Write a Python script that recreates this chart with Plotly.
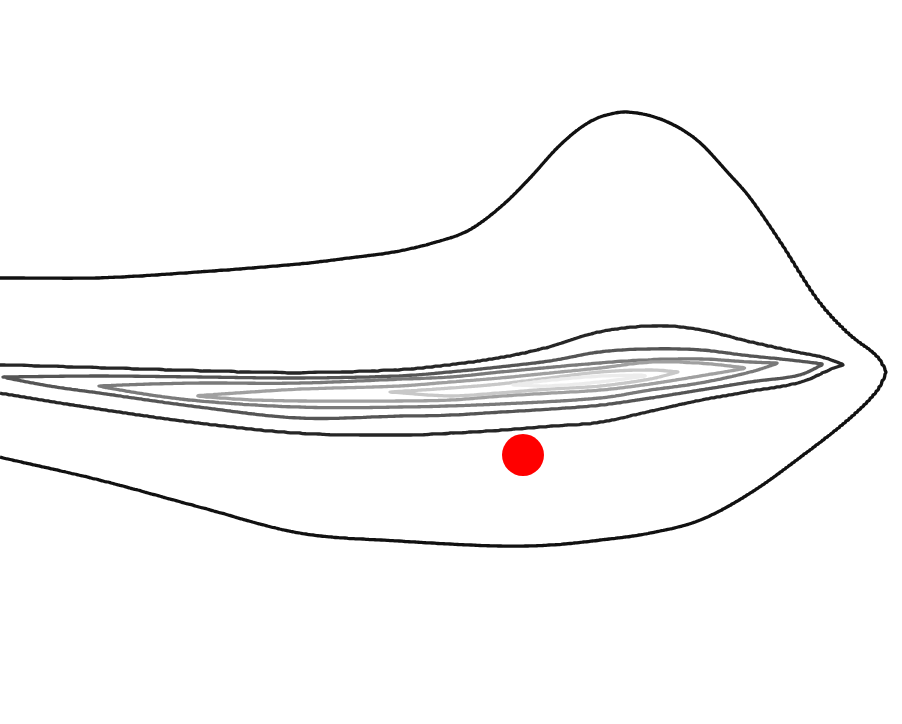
import numpy as np
import plotly.graph_objects as go

# Columns where the ridge height of the density was read, and that height
col_x = [0, 50, 100, 150, 200, 250, 300, 350, 400, 450, 500, 550, 600, 625, 650,
         675, 700, 725, 750, 775, 800, 825, 850, 870, 880, 890, 902]
peak_z = [2.98, 3.5, 4.03, 4.55, 5.04, 5.3, 5.54, 5.8, 6.08, 6.5, 6.92, 7.25, 7.35, 7.3, 7.04,
          6.1, 5.7, 5.35, 4.95, 4.1, 3.5, 2.97, 1.83, 1.4, 1.15, 0.9, 0.7]

# Contour levels: upper and lower edges of each level
L1_top_x = [0, 100, 200, 300, 350, 400, 450, 473, 503, 530, 557, 580, 600, 627, 663, 697, 730, 750, 780, 817, 847, 877, 886]
L1_top_y = [278, 278, 272, 264, 258, 251, 238, 228, 205, 178, 148, 128, 117, 112, 120, 140, 175, 198, 242, 300, 333, 357, 372]
L1_bot_x = [0, 100, 200, 300, 400, 500, 550, 600, 650, 700, 750, 800, 847, 877, 886]
L1_bot_y = [457, 480, 507, 533, 541, 546, 545, 540, 533, 520, 493, 457, 420, 390, 372]

L2_top_x = [0, 100, 200, 300, 400, 450, 500, 550, 600, 657, 700, 750, 800, 825, 843]
L2_top_y = [365, 368, 371, 373, 370, 365, 358, 347, 332, 326, 330, 342, 353, 358, 365]
L2_bot_x = [0, 100, 200, 300, 400, 450, 500, 550, 600, 650, 700, 750, 800, 833, 843]
L2_bot_y = [393, 409, 423, 433, 435, 433, 430, 426, 422, 411, 400, 391, 382, 368, 365]

L3_top_x = [2, 100, 200, 300, 400, 450, 500, 550, 600, 650, 700, 750, 800, 824]
L3_top_y = [377, 376, 377, 378, 376, 372, 367, 361, 352, 349, 350, 356, 361, 364]
L3_bot_x = [2, 50, 100, 200, 300, 400, 450, 500, 550, 600, 650, 700, 750, 800, 824]
L3_bot_y = [377, 386, 393, 407, 418, 416, 415, 412, 409, 405, 398, 390, 382, 375, 364]

L4_top_x = [97, 150, 200, 300, 400, 450, 500, 600, 650, 700, 750, 778]
L4_top_y = [386, 384, 383, 383, 379, 377, 372, 363, 360, 359, 362, 363]
L4_bot_x = [97, 150, 200, 300, 400, 500, 600, 650, 700, 750, 778]
L4_bot_y = [386, 395, 401, 407, 407, 404, 398, 390, 383, 372, 363]

L5_top_x = [193, 250, 300, 400, 450, 500, 550, 600, 650, 700, 748]
L5_top_y = [396, 392, 389, 386, 382, 378, 373, 368, 362, 363, 368]
L5_bot_x = [193, 250, 300, 400, 450, 500, 550, 600, 650, 700, 748]
L5_bot_y = [396, 400, 401, 401, 400, 396, 393, 390, 384, 376, 368]

L6_top_x = [390, 450, 500, 550, 600, 650, 678]
L6_top_y = [392, 388, 384, 378, 372, 370, 372]
L6_bot_x = [390, 450, 500, 550, 600, 650, 678]
L6_bot_y = [392, 396, 393, 389, 386, 379, 372]

L7_top_x = [510, 550, 600, 653]
L7_top_y = [385, 380, 376, 375]
L7_bot_x = [510, 550, 600, 653]
L7_bot_y = [385, 386, 382, 375]

# Highlighted point
point_x = [523]
point_y = [455]

level_colors = ["#111111", "#262626", "#555555", "#7a7a7a", "#a0a0a0", "#c8c8c8", "#ececec"]

tops = {1: (L1_top_x, L1_top_y), 2: (L2_top_x, L2_top_y), 3: (L3_top_x, L3_top_y),
        4: (L4_top_x, L4_top_y), 5: (L5_top_x, L5_top_y), 6: (L6_top_x, L6_top_y),
        7: (L7_top_x, L7_top_y)}
bots = {1: (L1_bot_x, L1_bot_y), 2: (L2_bot_x, L2_bot_y), 3: (L3_bot_x, L3_bot_y),
        4: (L4_bot_x, L4_bot_y), 5: (L5_bot_x, L5_bot_y), 6: (L6_bot_x, L6_bot_y),
        7: (L7_bot_x, L7_bot_y)}


def curve_at(x, xs, ys):
    """Smooth (Catmull-Rom style Hermite) curve through the read edge points."""
    xs = np.asarray(xs, float)
    ys = np.asarray(ys, float)
    if x <= xs[0]:
        return ys[0]
    if x >= xs[-1]:
        return ys[-1]
    i = int(np.searchsorted(xs, x) - 1)
    n = len(xs)

    def slope(k):
        a = max(k - 1, 0)
        b = min(k + 1, n - 1)
        return (ys[b] - ys[a]) / (xs[b] - xs[a])

    h = xs[i + 1] - xs[i]
    t = (x - xs[i]) / h
    m0, m1 = slope(i) * h, slope(i + 1) * h
    h00 = 2 * t**3 - 3 * t**2 + 1
    h10 = t**3 - 2 * t**2 + t
    h01 = -2 * t**3 + 3 * t**2
    h11 = t**3 - t**2
    return h00 * ys[i] + h10 * m0 + h01 * ys[i + 1] + h11 * m1


# build the density grid from the read contour edges
grid_x = np.arange(0, 906, 3.0)
grid_y = np.arange(0, 726, 1.0)
Z = np.zeros((len(grid_y), len(grid_x)))
for j, x in enumerate(grid_x):
    pz = float(np.interp(x, col_x, peak_z))
    levels = [L for L in range(1, 8) if pz > L]
    top = [float(curve_at(x, *tops[L])) for L in levels]
    bot = [float(curve_at(x, *bots[L])) for L in levels]
    yc = (top[-1] + bot[-1]) / 2 if levels else 372.0
    ys = [-10.0] + top + [yc] + bot[::-1] + [740.0]
    zs = [0.0] + [float(L) for L in levels] + [pz] + [float(L) for L in levels[::-1]] + [0.0]
    ys_arr = np.array(ys)
    for k in range(1, len(ys_arr)):
        if ys_arr[k] <= ys_arr[k - 1]:
            ys_arr[k] = ys_arr[k - 1] + 0.3
    Z[:, j] = np.interp(grid_y, ys_arr, zs)
Z = np.round(Z, 3)

n = len(level_colors) - 1
colorscale = [[i / n, c] for i, c in enumerate(level_colors)]

fig = go.Figure()
fig.add_trace(go.Contour(
    x=grid_x, y=grid_y, z=Z,
    zmin=1, zmax=7,
    contours=dict(start=1, end=7, size=1, coloring="lines"),
    colorscale=colorscale, showscale=False,
    line=dict(width=3.3, smoothing=1.0),
    hoverinfo="skip",
))
fig.add_trace(go.Scatter(
    x=point_x, y=point_y, mode="markers",
    marker=dict(color="#ff0000", size=42, line=dict(width=0)),
    showlegend=False, hoverinfo="skip",
))
fig.update_layout(
    width=902, height=724,
    margin=dict(l=0, r=0, t=0, b=0),
    paper_bgcolor="white", plot_bgcolor="white",
    showlegend=False,
    xaxis=dict(range=[0, 902], visible=False),
    yaxis=dict(range=[724, 0], visible=False),
)
fig.write_html("out.html", config={"displayModeBar": False},
               post_script="document.body.style.margin='0';")
